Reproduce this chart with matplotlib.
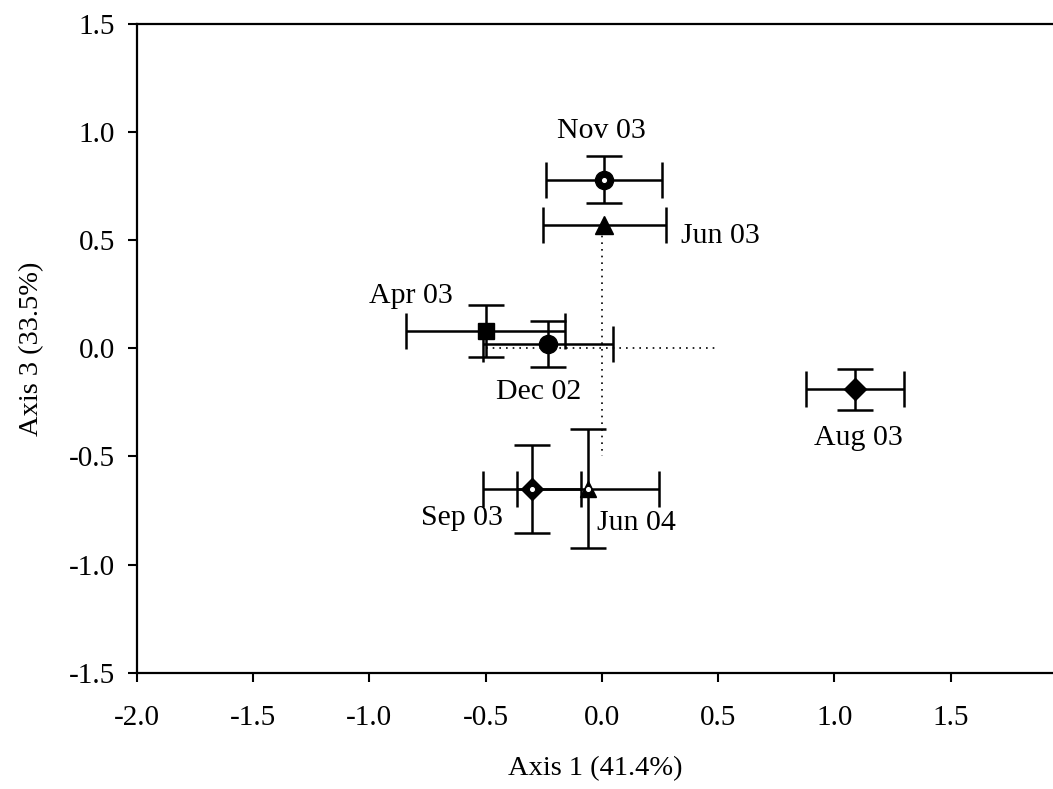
import numpy as np
import matplotlib.pyplot as plt

plt.rcParams['font.family'] = ['Liberation Serif', 'DejaVu Serif']

labels = ["Dec 02", "Apr 03", "Jun 03", "Aug 03", "Sep 03", "Nov 03", "Jun 04"]
ax1 = [-0.23, -0.50, 0.01, 1.09, -0.30, 0.01, -0.06]
ax3 = [0.02, 0.08, 0.57, -0.19, -0.65, 0.78, -0.65]
err1 = [0.28, 0.34, 0.265, 0.21, 0.21, 0.25, 0.305]
err3 = [0.105, 0.12, 0.0, 0.095, 0.205, 0.11, 0.275]
markers = ["o", "s", "^", "D", "D", "o", "^"]
msizes = [13, 11, 13, 11, 11.5, 13, 11]
dotted = [False, False, False, False, True, True, True]

lab_x = [-0.27, -0.82, 0.34, 1.105, -0.60, 0.0, 0.15]
lab_y = [-0.20, 0.24, 0.52, -0.415, -0.785, 1.005, -0.81]
lab_ha = ["center", "center", "left", "center", "center", "center", "center"]

fig = plt.figure(figsize=(10.53, 7.89), dpi=100)
ax = fig.add_axes([0.1298, 0.1474, 1 - 0.1298, 0.9696 - 0.1474])

# reference cross
ax.plot([-0.5, 0.5], [0.0, 0.0], color="k", lw=1.2, ls=(0, (1, 3)))
ax.plot([0.0, 0.0], [0.55, -0.5], color="k", lw=1.2, ls=(0, (1, 3)))

for i in range(len(labels)):
    ye = err3[i] if err3[i] > 0 else None
    ax.errorbar(ax1[i], ax3[i], xerr=err1[i], yerr=ye, fmt=markers[i],
                color="k", ms=msizes[i], lw=1.8, capsize=13, capthick=1.8)
    if dotted[i]:
        ax.plot(ax1[i], ax3[i], "o", color="w", ms=4.5, mec="k", mew=0.8, zorder=5)
    ax.text(lab_x[i], lab_y[i], labels[i], ha=lab_ha[i], va="center", fontsize=21.5)

ax.set_xlim(-2.0, 1.94)
ax.set_ylim(-1.5, 1.5)
ax.set_xticks(np.arange(-2.0, 1.6, 0.5))
ax.set_yticks(np.arange(-1.5, 1.6, 0.5))
ax.xaxis.set_major_formatter(plt.FormatStrFormatter("%.1f"))
ax.yaxis.set_major_formatter(plt.FormatStrFormatter("%.1f"))
ax.tick_params(labelsize=21, width=1.5, length=6.5)
ax.tick_params(axis="x", pad=17)
ax.tick_params(axis="y", pad=9)
ax.spines["right"].set_visible(False)
for s in ["left", "bottom", "top"]:
    ax.spines[s].set_linewidth(1.6)

ax.set_xlabel("Axis 1 (41.4%)", fontsize=20.5, labelpad=18)
ax.set_ylabel("Axis 3 (33.5%)", fontsize=20.5, labelpad=18)

fig.savefig("out.png", dpi=100)
